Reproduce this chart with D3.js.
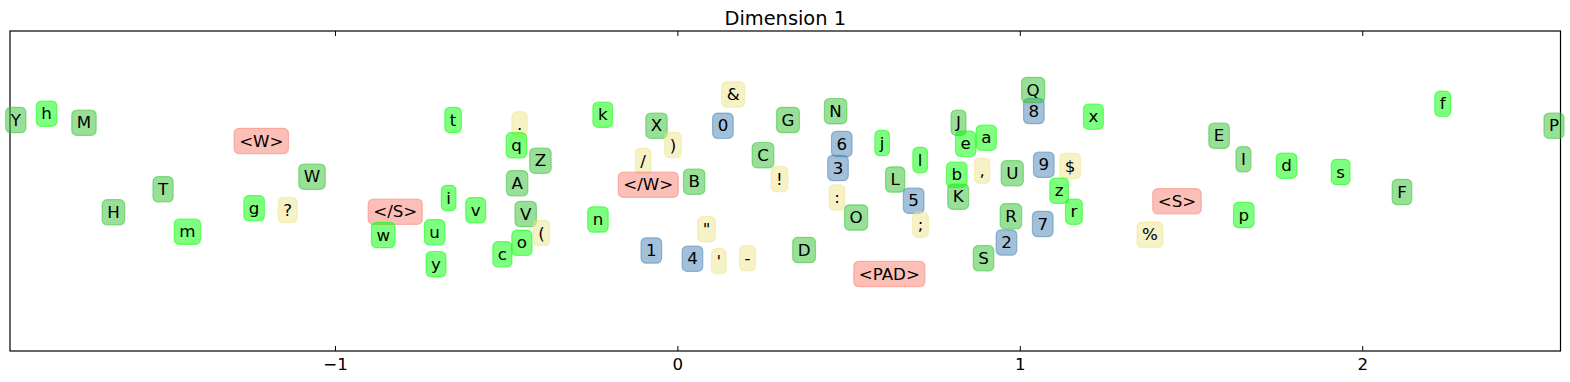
<!DOCTYPE html>
<html>
<head>
<meta charset="utf-8">
<script src="https://cdn.jsdelivr.net/npm/d3@7"></script>
<style>
	body { margin: 0; background: #fff; }
	text { font-family: "DejaVu Sans", sans-serif; }
</style>
</head>
<body>
<div id="chart-area"></div>
<script>

// labels and their 2-D embedding coordinates
let labels = ["Y", "h", "M", "<W>", "W", "T", "H", "m", "g", "?", "</S>", "w",
	"t", ".", "q", "Z", "A", "i", "v", "V", "u", "y", "c", "o", "(",
	"k", "n", "X", ")", "/", "</W>", "B", "1", "4", "\"", "'", "-", "&", "0",
	"C", "!", "G", "N", "6", "3", ":", "O", "D", "<PAD>", "j", "l", "L", "5", ";",
	"J", "e", "a", "K", "b", ",", "U", "S", "2", "R", "8", "Q", "9", "$", "z", "r",
	"7", "x", "%", "<S>", "E", "I", "d", "s", "F", "p", "f", "P"];

let xValues = [-1.932, -1.842, -1.733, -1.215, -1.067, -1.502, -1.647, -1.431, -1.236, -1.138, -0.824, -0.859,
	-0.655, -0.461, -0.470, -0.400, -0.468, -0.668, -0.589, -0.443, -0.709, -0.705, -0.511, -0.454, -0.397,
	-0.218, -0.232, -0.061, -0.013, -0.100, -0.085, 0.049, -0.076, 0.044, 0.085, 0.121, 0.205, 0.163, 0.133,
	0.250, 0.298, 0.323, 0.462, 0.480, 0.469, 0.466, 0.522, 0.370, 0.619, 0.598, 0.709, 0.636, 0.690, 0.710,
	0.821, 0.842, 0.902, 0.820, 0.816, 0.890, 0.978, 0.894, 0.961, 0.974, 1.041, 1.039, 1.070, 1.147, 1.115, 1.158,
	1.067, 1.215, 1.380, 1.459, 1.582, 1.653, 1.779, 1.937, 2.116, 1.654, 2.235, 2.560];

let yValues = [0.710, 0.773, 0.683, 0.500, 0.143, 0.017, -0.213, -0.407, -0.173, -0.190, -0.207, -0.440,
	0.710, 0.667, 0.457, 0.303, 0.077, -0.070, -0.193, -0.230, -0.413, -0.732, -0.633, -0.518, -0.420,
	0.763, -0.285, 0.653, 0.460, 0.300, 0.063, 0.093, -0.595, -0.677, -0.382, -0.703, -0.673, 0.965, 0.652,
	0.358, 0.120, 0.710, 0.798, 0.470, 0.230, -0.065, -0.265, -0.590, -0.830, 0.480, 0.310, 0.115, -0.097, -0.337,
	0.683, 0.472, 0.533, -0.057, 0.163, 0.203, 0.177, -0.673, -0.515, -0.253, 0.800, 1.010, 0.263, 0.250, 0.003, -0.207,
	-0.330, 0.743, -0.438, -0.103, 0.553, 0.317, 0.253, 0.190, -0.010, -0.240, 0.872, 0.653];

let xTicks = [-1, 0, 1, 2];

let categoryColors = {
	special: "#fa8072",
	digit: "#4682b4",
	lower: "#00ff00",
	upper: "#32c132",
	punct: "#f0e68c"
};

function category(label) {
	if (label.length > 1 && label[0] === "<") return "special";
	if (/[0-9]/.test(label)) return "digit";
	if (/[a-z]/.test(label)) return "lower";
	if (/[A-Z]/.test(label)) return "upper";
	return "punct";
}

let data = labels.map((l, i) => ({label: l, x: xValues[i], y: yValues[i], cat: category(l)}));

drawChart(data);

function drawChart(data) {

	let margin = {top: 31, right: 9.5, bottom: 31, left: 10};
	let width = 1570 - margin.left - margin.right,
		height = 382 - margin.top - margin.bottom;

	let svg = d3.select("#chart-area").append("svg")
		.attr("width", 1570)
		.attr("height", 382)
		.append("g")
		.attr("transform", "translate(" + margin.left + "," + margin.top + ")");

	let x = d3.scaleLinear()
		.domain([-1.949, 2.579])
		.range([0, width]);

	let y = d3.scaleLinear()
		.domain([-1.6, 1.6])
		.range([height, 0]);

	// axes, ticks pointing inward
	let xAxis = d3.axisBottom(x)
		.tickValues(xTicks)
		.tickFormat(d3.format("d"))
		.tickSizeInner(-5)
		.tickSizeOuter(0)
		.tickPadding(7);

	let gx = svg.append("g")
		.attr("class", "x axis")
		.attr("transform", "translate(0," + height + ")")
		.call(xAxis);
	gx.select(".domain").remove();
	gx.selectAll("text")
		.style("font-family", "DejaVu Sans")
		.style("font-size", "16.67px")
		.attr("fill", "#000");

	let gxTop = svg.append("g")
		.attr("class", "x axis top")
		.call(d3.axisTop(x).tickValues(xTicks).tickSizeInner(-5).tickSizeOuter(0).tickFormat(""));
	gxTop.select(".domain").remove();

	// frame
	svg.append("rect")
		.attr("x", 0)
		.attr("y", 0)
		.attr("width", width)
		.attr("height", height)
		.attr("fill", "none")
		.attr("stroke", "#000")
		.attr("stroke-width", 1.2);

	// title
	svg.append("text")
		.attr("x", width / 2)
		.attr("y", -6)
		.attr("text-anchor", "middle")
		.style("font-size", "19.4px")
		.text("Dimension 1");

	// labelled boxes
	let pad = 5, boxH = 25.4;

	let nodes = svg.selectAll(".node")
		.data(data)
		.enter()
		.append("g")
		.attr("class", "node")
		.attr("transform", d => "translate(" + x(d.x) + "," + y(d.y) + ")");

	let rects = nodes.append("rect")
		.attr("fill", d => categoryColors[d.cat])
		.attr("fill-opacity", 0.5)
		.attr("stroke", d => categoryColors[d.cat])
		.attr("stroke-opacity", 0.5)
		.attr("stroke-width", 1.2)
		.attr("rx", 5)
		.attr("ry", 5);

	let texts = nodes.append("text")
		.attr("text-anchor", "middle")
		.attr("y", 5.5)
		.style("font-size", "16.67px")
		.attr("fill", "#000")
		.text(d => d.label);

	texts.each(function (d) {
		d.w = this.getComputedTextLength();
	});

	rects
		.attr("x", d => -d.w / 2 - pad)
		.attr("y", -boxH / 2)
		.attr("width", d => d.w + 2 * pad)
		.attr("height", boxH);
}

</script>
</body>
</html>
